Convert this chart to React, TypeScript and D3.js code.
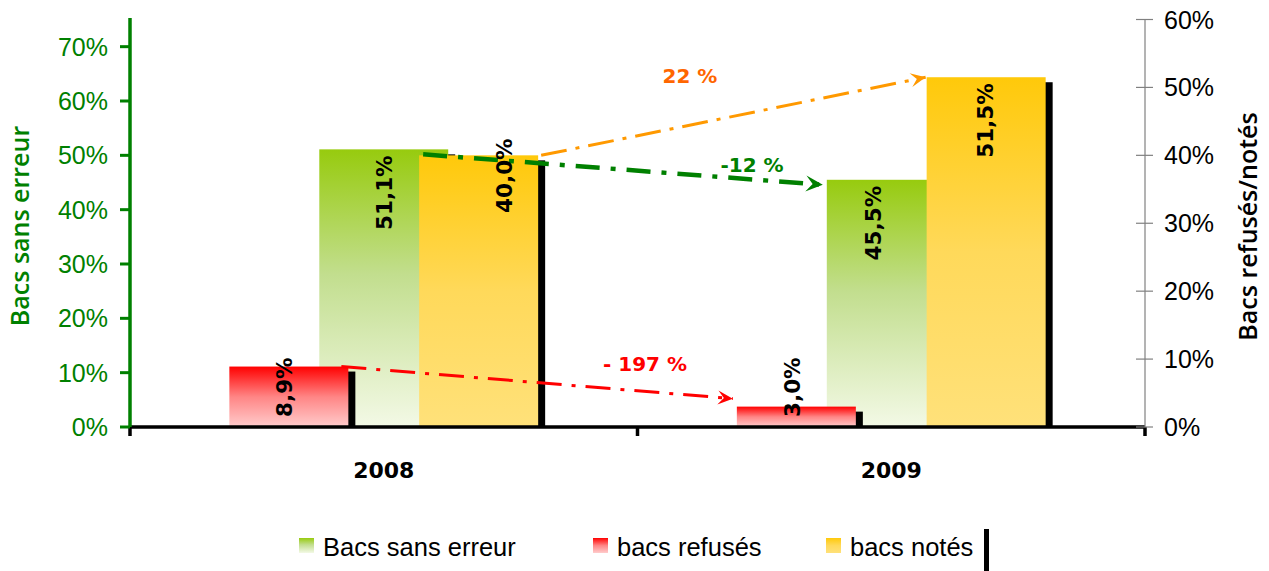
import React from "react";
import * as d3 from "d3";

// ---------- data ----------
const categories = ["2008", "2009"];
const sansErreur = [0.511, 0.455]; // left (primary) axis
const refuses = [0.089, 0.03]; // right (secondary) axis
const notes = [0.4, 0.515]; // right (secondary) axis
const leftTicks = [0, 0.1, 0.2, 0.3, 0.4, 0.5, 0.6, 0.7];
const rightTicks = [0, 0.1, 0.2, 0.3, 0.4, 0.5, 0.6];
const evolutionLabels = ["22 %", "-12 %", "- 197 %"]; // notés, sans erreur, refusés
const legendNames = ["Bacs sans erreur", "bacs refusés", "bacs notés"];

// ---------- layout ----------
const W = 1269;
const H = 571;
const X0 = 130;
const X1 = 1145;
const Y0 = 427;
const YTOP = 19.5;

const fmt = (v: number) => d3.format(".1%")(v).replace(".", ",");

export default function App() {
  const x = d3.scaleBand<string>().domain(categories).range([X0, X1]).padding(0);
  const yL = d3.scaleLinear().domain([0, 0.75]).range([Y0, YTOP]);
  const yR = d3.scaleLinear().domain([0, 0.6]).range([Y0, YTOP]);
  const bw = x.bandwidth();
  const greenW = bw * 0.254;
  const secW = bw * 0.2345;
  const secOff = bw * 0.187;
  const cx = (c: string) => (x(c) as number) + bw / 2;

  const greenBars = categories.map((c, i) => ({
    x: cx(c) - greenW / 2,
    y: yL(sansErreur[i]),
    w: greenW,
    v: sansErreur[i],
  }));
  const redBars = categories.map((c, i) => ({
    x: cx(c) - secOff - secW / 2,
    y: yR(refuses[i]),
    w: secW,
    v: refuses[i],
  }));
  const yellowBars = categories.map((c, i) => ({
    x: cx(c) + secOff - secW / 2,
    y: yR(notes[i]),
    w: secW,
    v: notes[i],
  }));

  const SDX = 7;
  const SDY = 5;

  const bar = (b: any, fill: string, key: string) => (
    <g key={key}>
      <rect x={b.x + SDX} y={b.y + SDY} width={b.w} height={Y0 - b.y - SDY} fill="#000" />
      <rect x={b.x} y={b.y} width={b.w} height={Y0 - b.y} fill={fill} />
    </g>
  );

  const labelFont = {
    fontFamily: "'DejaVu Sans', Verdana, sans-serif",
    fontWeight: 700,
    fontSize: 21.5,
    fill: "#000",
  } as const;

  const vLabel = (
    key: string,
    xc: number,
    y: number,
    anchor: "start" | "end",
    text: string
  ) => (
    <text
      key={key}
      transform={`translate(${xc},${y}) rotate(-90)`}
      textAnchor={anchor}
      dy="0.36em"
      style={labelFont}
    >
      {text}
    </text>
  );

  // label placement tweaks (layout only)
  const greenDx = [0, -18];
  const yellowDx = [26, -1];
  const yellowEndDy = [-17, 6];
  const redDx = [-4.5, -4];

  // arrows
  const orange = {
    x1: yellowBars[0].x + yellowBars[0].w + 3,
    y1: yellowBars[0].y,
    x2: yellowBars[1].x - 1,
    y2: yellowBars[1].y,
  };
  const green = {
    x1: yellowBars[0].x + 4,
    y1: greenBars[0].y + 5,
    x2: greenBars[1].x - 4,
    y2: greenBars[1].y + 5,
  };
  const red = {
    x1: redBars[0].x + redBars[0].w - 7,
    y1: redBars[0].y,
    x2: redBars[1].x - 4,
    y2: redBars[1].y - 8,
  };

  const tickFont = {
    fontFamily: "'Liberation Sans', Arial, sans-serif",
    fontSize: 25,
  } as const;

  const legendX = [299, 593, 826];
  const legendFills = ["url(#gGreen)", "url(#gRed)", "url(#gYellow)"];

  return (
    <svg
      width={W}
      height={H}
      viewBox={`0 0 ${W} ${H}`}
      style={{ position: "absolute", left: 0, top: 0, background: "#fff" }}
    >
      <defs>
        <linearGradient id="gGreen" x1="0" y1="0" x2="0" y2="1">
          <stop offset="0" stopColor="#97CB0E" />
          <stop offset="0.45" stopColor="#C2DE8E" />
          <stop offset="1" stopColor="#F3F9E6" />
        </linearGradient>
        <linearGradient id="gRed" x1="0" y1="0" x2="0" y2="1">
          <stop offset="0" stopColor="#FF0000" />
          <stop offset="0.5" stopColor="#FF8585" />
          <stop offset="1" stopColor="#FFCCCC" />
        </linearGradient>
        <linearGradient id="gYellow" x1="0" y1="0" x2="0" y2="1">
          <stop offset="0" stopColor="#FFC90A" />
          <stop offset="0.5" stopColor="#FFD95A" />
          <stop offset="1" stopColor="#FFE17A" />
        </linearGradient>
        {[
          ["mOrange", "#FF9900", 15, 7],
          ["mGreen", "#008000", 17, 8],
          ["mRed", "#FF0000", 15, 7],
        ].map(([id, col, L, hw]: any) => (
          <marker
            key={id}
            id={id}
            markerUnits="userSpaceOnUse"
            viewBox={`${-L - 1} ${-hw - 1} ${L + 2} ${2 * hw + 2}`}
            markerWidth={L + 2}
            markerHeight={2 * hw + 2}
            refX={0}
            refY={0}
            orient="auto"
          >
            <path d={`M0,0 L${-L},${-hw} L${-L * 0.6},0 L${-L},${hw} Z`} fill={col} />
          </marker>
        ))}
      </defs>

      {/* bars */}
      {greenBars.map((b, i) => bar(b, "url(#gGreen)", "g" + i))}
      {redBars.map((b, i) => bar(b, "url(#gRed)", "r" + i))}
      {yellowBars.map((b, i) => bar(b, "url(#gYellow)", "y" + i))}

      {/* x axis */}
      <line x1={X0} x2={X1} y1={Y0} y2={Y0} stroke="#000" strokeWidth={3.5} />
      {[X0, ...categories.map((c) => (x(c) as number) + bw)].map((t, i) => (
        <line key={"xt" + i} x1={t} x2={t} y1={Y0} y2={Y0 + 9} stroke="#000" strokeWidth={3.5} />
      ))}
      {categories.map((c) => (
        <text
          key={"cl" + c}
          x={cx(c)}
          y={478}
          textAnchor="middle"
          style={{ ...labelFont, fontSize: 22 }}
        >
          {c}
        </text>
      ))}

      {/* left axis */}
      <line x1={X0} x2={X0} y1={18} y2={Y0} stroke="#008000" strokeWidth={3.5} />
      {leftTicks.map((t) => (
        <g key={"lt" + t}>
          <line x1={120} x2={X0} y1={yL(t)} y2={yL(t)} stroke="#008000" strokeWidth={3} />
          <text x={108} y={yL(t)} dy="0.36em" textAnchor="end" style={{ ...tickFont, fill: "#008000" }}>
            {d3.format(".0%")(t)}
          </text>
        </g>
      ))}
      <text
        transform={`translate(20,${(127 + 325) / 2}) rotate(-90)`}
        textAnchor="middle"
        dy="0.36em"
        style={{ fontFamily: "'Open Sans', sans-serif", fontWeight: 600, fontSize: 25, fill: "#008000" }}
      >
        Bacs sans erreur
      </text>

      {/* right axis */}
      <line x1={X1} x2={X1} y1={YTOP} y2={Y0} stroke="#808080" strokeWidth={1.2} />
      {rightTicks.map((t) => (
        <g key={"rt" + t}>
          <line x1={1136} x2={1153} y1={yR(t)} y2={yR(t)} stroke="#808080" strokeWidth={1.2} />
          <text x={1164} y={yR(t)} dy="0.36em" textAnchor="start" style={{ ...tickFont, fill: "#000" }}>
            {d3.format(".0%")(t)}
          </text>
        </g>
      ))}
      <text
        transform={`translate(1248,${(115 + 338) / 2}) rotate(-90)`}
        textAnchor="middle"
        dy="0.36em"
        style={{ fontFamily: "'Open Sans', sans-serif", fontWeight: 600, fontSize: 25, fill: "#000" }}
      >
        Bacs refusés/notés
      </text>

      {/* evolution arrows */}
      <line
        {...orange}
        stroke="#FF9900"
        strokeWidth={3}
        strokeDasharray="26 9 4 9"
        markerEnd="url(#mOrange)"
      />
      <line
        {...green}
        stroke="#008000"
        strokeWidth={4.5}
        strokeDasharray="24 11 5 11"
        markerEnd="url(#mGreen)"
      />
      <line
        {...red}
        stroke="#FF0000"
        strokeWidth={3}
        strokeDasharray="25 10 4 10"
        markerEnd="url(#mRed)"
      />
      <text x={690} y={83} textAnchor="middle" style={{ ...labelFont, fontSize: 20, fill: "#FF6600" }}>
        {evolutionLabels[0]}
      </text>
      <text x={752} y={172} textAnchor="middle" style={{ ...labelFont, fontSize: 20, fill: "#008000" }}>
        {evolutionLabels[1]}
      </text>
      <text x={645} y={371} textAnchor="middle" style={{ ...labelFont, fontSize: 20, fill: "#FF0000" }}>
        {evolutionLabels[2]}
      </text>

      {/* data labels */}
      {greenBars.map((b, i) =>
        vLabel("gl" + i, b.x + b.w / 2 + greenDx[i], b.y + 6, "end", fmt(b.v))
      )}
      {yellowBars.map((b, i) =>
        vLabel("yl" + i, b.x + b.w / 2 + yellowDx[i], b.y + yellowEndDy[i], "end", fmt(b.v))
      )}
      {redBars.map((b, i) =>
        vLabel("rl" + i, b.x + b.w / 2 + redDx[i], Y0 - 10, "start", fmt(b.v))
      )}

      {/* legend */}
      {legendNames.map((n, i) => (
        <g key={"lg" + i}>
          <rect x={legendX[i]} y={538} width={15} height={15} fill={legendFills[i]} />
          <text
            x={legendX[i] + 24}
            y={556}
            style={{ fontFamily: "'Liberation Sans', Arial, sans-serif", fontSize: 25.5, fill: "#000" }}
          >
            {n}
          </text>
        </g>
      ))}
      <rect x={984} y={529} width={5} height={42} fill="#000" />
    </svg>
  );
}
